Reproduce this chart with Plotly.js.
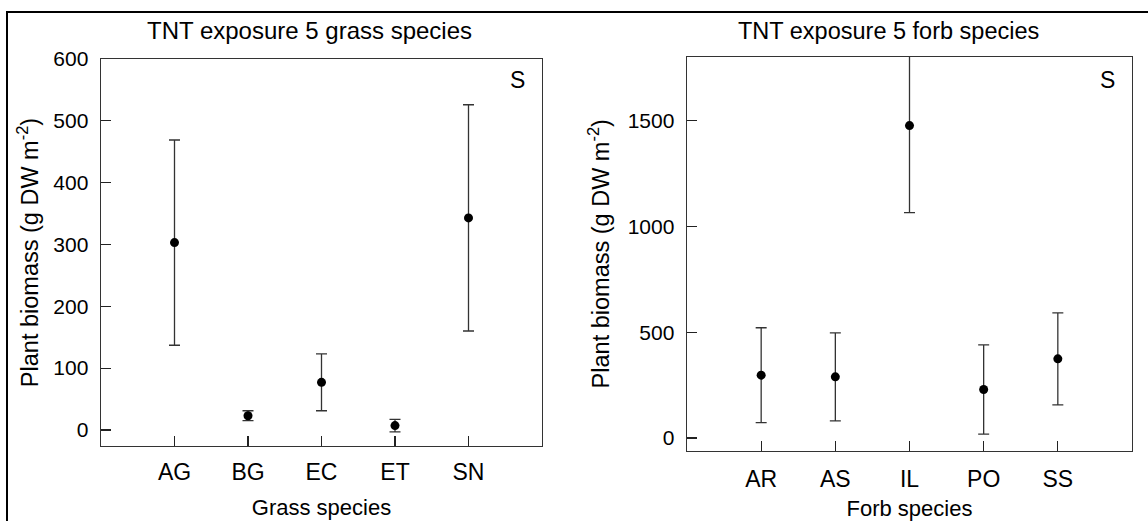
<!DOCTYPE html>
<html>
<head>
<meta charset="utf-8">
<script src="https://cdn.plot.ly/plotly-3.0.1.min.js"></script>
<style>
  html, body { margin: 0; padding: 0; background: #fff; }
  #wrap { position: relative; width: 1148px; height: 521px; overflow: hidden; }
  #chart { position: absolute; left: 0; top: 0; width: 1148px; height: 521px; }
  #frame { position: absolute; left: 6px; top: 11px; width: 1200px; height: 600px;
           border-left: 2px solid #000; border-top: 2px solid #000; pointer-events: none; }
</style>
</head>
<body>
<div id="wrap">
  <div id="chart"></div>
  <div id="frame"></div>
</div>
<script>
// Grass species panel
const grassSpecies = ['AG', 'BG', 'EC', 'ET', 'SN'];
const grassMean = [303, 23, 77, 7, 343];
const grassErr = [166, 8, 46, 10, 183];
const grassTicks = [0, 100, 200, 300, 400, 500, 600];

// Forb species panel
const forbSpecies = ['AR', 'AS', 'IL', 'PO', 'SS'];
const forbMean = [297, 289, 1476, 229, 374];
const forbErr = [224, 208, 411, 211, 217];
const forbTicks = [0, 500, 1000, 1500];

const FONT = 'Liberation Sans, Arial, Helvetica, sans-serif';
const W = 1148, H = 521;
const px = v => v / W;
const py = v => 1 - v / H;

function pointTrace(x, y, err, xa, ya) {
  return {
    type: 'scatter', mode: 'markers', x: x, y: y, xaxis: xa, yaxis: ya,
    marker: { color: '#000', size: 9 },
    error_y: { type: 'data', array: err, visible: true, color: '#333', thickness: 1.3, width: 5.5 },
    cliponaxis: true, showlegend: false, hoverinfo: 'x+y'
  };
}

const axisCommon = {
  showgrid: false, zeroline: false, showline: true, mirror: true,
  linecolor: '#333', linewidth: 1.4,
  ticks: 'inside', ticklen: 10, tickwidth: 1.2, tickcolor: '#222'
};
const xTickFont = { family: FONT, size: 23, color: '#000' };
const yTickFont = { family: FONT, size: 21, color: '#000' };
const xTitleFont = { family: FONT, size: 22, color: '#000' };
const yTitleFont = { family: FONT, size: 23.5, color: '#000' };

const layout = {
  width: W, height: H,
  margin: { l: 0, r: 0, t: 0, b: 0 },
  paper_bgcolor: '#fff', plot_bgcolor: '#fff',
  font: { family: FONT, color: '#000' },
  xaxis: Object.assign({}, axisCommon, {
    domain: [px(101), px(542)], anchor: 'y', type: 'category', range: [-1, 5],
    tickfont: xTickFont, ticklabelstandoff: 5,
    title: { text: 'Grass species', font: xTitleFont, standoff: 15 }
  }),
  yaxis: Object.assign({}, axisCommon, {
    domain: [py(446), py(59)], anchor: 'x', range: [-26, 600],
    tickvals: grassTicks, tickfont: yTickFont, ticklabelstandoff: 7,
    title: { text: 'Plant biomass (g DW m<sup>-2</sup>)', font: yTitleFont, standoff: 8 }
  }),
  xaxis2: Object.assign({}, axisCommon, {
    domain: [px(687), px(1132)], anchor: 'y2', type: 'category', range: [-1, 5],
    tickfont: xTickFont, ticklabelstandoff: 7,
    title: { text: 'Forb species', font: xTitleFont, standoff: 20 }
  }),
  yaxis2: Object.assign({}, axisCommon, {
    domain: [py(450.5), py(57)], anchor: 'x2', range: [-59, 1800],
    tickvals: forbTicks, tickfont: yTickFont, ticklabelstandoff: 7,
    title: { text: 'Plant biomass (g DW m<sup>-2</sup>)', font: yTitleFont, standoff: 11 }
  }),
  annotations: [
    { text: 'TNT exposure 5 grass species', xref: 'paper', yref: 'paper',
      x: px(309), y: py(31), xanchor: 'center', yanchor: 'middle', showarrow: false,
      font: { family: FONT, size: 24, color: '#000' } },
    { text: 'TNT exposure 5 forb species', xref: 'paper', yref: 'paper',
      x: px(888), y: py(31), xanchor: 'center', yanchor: 'middle', showarrow: false,
      font: { family: FONT, size: 23.5, color: '#000' } },
    { text: 'S', xref: 'paper', yref: 'paper', x: px(517), y: py(80),
      xanchor: 'center', yanchor: 'middle', showarrow: false,
      font: { family: FONT, size: 23, color: '#000' } },
    { text: 'S', xref: 'paper', yref: 'paper', x: px(1107), y: py(80),
      xanchor: 'center', yanchor: 'middle', showarrow: false,
      font: { family: FONT, size: 23, color: '#000' } }
  ]
};

Plotly.newPlot('chart', [
  pointTrace(grassSpecies, grassMean, grassErr, 'x', 'y'),
  pointTrace(forbSpecies, forbMean, forbErr, 'x2', 'y2')
], layout, { staticPlot: true, displayModeBar: false });
</script>
</body>
</html>
